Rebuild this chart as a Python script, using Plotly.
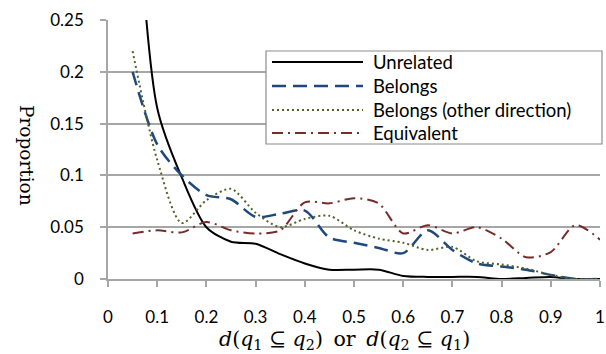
import plotly.graph_objects as go

x = [0.05, 0.1, 0.15, 0.2, 0.25, 0.3, 0.35, 0.4, 0.45, 0.5, 0.55, 0.6, 0.65, 0.7, 0.75, 0.8, 0.85, 0.9, 0.95, 1.0]

unrelated = [0.44, 0.165, 0.098, 0.05, 0.036, 0.034, 0.024, 0.015, 0.009, 0.009, 0.009, 0.003, 0.002, 0.002, 0.002, 0.0, 0.001, 0.002, 0.0, 0.0]
belongs = [0.2, 0.13, 0.1, 0.081, 0.077, 0.06, 0.063, 0.066, 0.04, 0.035, 0.03, 0.025, 0.047, 0.028, 0.015, 0.012, 0.009, 0.004, 0.0, 0.0]
belongs_other = [0.22, 0.115, 0.054, 0.076, 0.087, 0.064, 0.05, 0.058, 0.061, 0.047, 0.039, 0.035, 0.028, 0.031, 0.017, 0.014, 0.01, 0.004, 0.0, 0.0]
equivalent = [0.044, 0.047, 0.045, 0.055, 0.047, 0.044, 0.047, 0.074, 0.073, 0.078, 0.073, 0.044, 0.052, 0.044, 0.05, 0.039, 0.021, 0.026, 0.052, 0.038]

series_names = ["Unrelated", "Belongs", "Belongs (other direction)", "Equivalent"]
series_values = [unrelated, belongs, belongs_other, equivalent]
series_colors = ["#000000", "#1F497D", "#4F6228", "#772C2A"]
series_dash = ["solid", "14px,7px", "2px,3px", "11px,5px,2px,5px"]
series_width = [2, 2.5, 2, 2]

x_ticks = [0, 0.1, 0.2, 0.3, 0.4, 0.5, 0.6, 0.7, 0.8, 0.9, 1]
x_tick_labels = ["0", "0.1", "0.2", "0.3", "0.4", "0.5", "0.6", "0.7", "0.8", "0.9", "1"]
y_ticks = [0, 0.05, 0.1, 0.15, 0.2, 0.25]
y_tick_labels = ["0", "0.05", "0.1", "0.15", "0.2", "0.25"]

x_title = ("<i>d</i>(<i>q</i><sub>1</sub> ⊆ <i>q</i><sub>2</sub>)\u2009 or \u2009"
           "<i>d</i>(<i>q</i><sub>2</sub> ⊆ <i>q</i><sub>1</sub>)")
y_title = "Proportion"

W, H = 606, 354
L, R, T, B = 108, 6, 20, 75
PW, PH = W - L - R, H - T - B


def px_x(p):
    return (p - L) / PW


def px_y(p):
    return (H - B - p) / PH


fig = go.Figure()
for name, vals, col, dash, w in zip(series_names, series_values, series_colors, series_dash, series_width):
    fig.add_trace(go.Scatter(
        x=x, y=vals, name=name, mode="lines", showlegend=False,
        line=dict(color=col, dash=dash, width=w, shape="spline", smoothing=0.8),
    ))

shapes = []
annotations = []
# legend box
shapes.append(dict(type="rect", xref="paper", yref="paper",
                   x0=px_x(266), x1=px_x(602), y0=px_y(144), y1=px_y(51),
                   line=dict(color="#8C8C8C", width=1.2), fillcolor="white", layer="above"))
row_y = [62, 86, 110, 133]
for name, col, dash, w, ry in zip(series_names, series_colors, series_dash, series_width, row_y):
    shapes.append(dict(type="line", xref="paper", yref="paper",
                       x0=px_x(272), x1=px_x(363), y0=px_y(ry), y1=px_y(ry),
                       line=dict(color=col, dash=dash, width=w), layer="above"))
    annotations.append(dict(text=name, xref="paper", yref="paper",
                            x=px_x(371), y=px_y(ry), xanchor="left", yanchor="middle",
                            showarrow=False,
                            font=dict(family="Lato, Open Sans, sans-serif", size=18.5, color="#000000")))

annotations.append(dict(text=x_title, xref="paper", yref="paper",
                        x=px_x(344), y=px_y(340), xanchor="center", yanchor="middle",
                        showarrow=False,
                        font=dict(family="DejaVu Serif, serif", size=20.5, color="#000000")))
annotations.append(dict(text=y_title, xref="paper", yref="paper",
                        x=px_x(27), y=px_y(155), xanchor="center", yanchor="middle",
                        textangle=90, showarrow=False,
                        font=dict(family="DejaVu Serif, serif", size=18.5, color="#000000")))

grid = "#A6A6A6"
tick_font = dict(family="Lato, Open Sans, sans-serif", size=17, color="#000000")
fig.update_layout(
    width=W, height=H,
    margin=dict(l=L, r=R, t=T, b=B),
    plot_bgcolor="white", paper_bgcolor="white",
    showlegend=False,
    shapes=shapes, annotations=annotations,
    xaxis=dict(
        range=[0, 1], tickvals=x_ticks, ticktext=x_tick_labels, tickfont=tick_font,
        showgrid=False, showline=True, linecolor=grid, linewidth=1.5,
        ticks="outside", ticklen=6, tickcolor=grid, tickwidth=1.5,
        ticklabelstandoff=16,
        zeroline=False, fixedrange=True, automargin=False,
    ),
    yaxis=dict(
        range=[0, 0.25], tickvals=y_ticks, ticktext=y_tick_labels, tickfont=tick_font,
        showgrid=True, gridcolor=grid, gridwidth=1.5,
        showline=True, linecolor=grid, linewidth=1.5,
        ticks="outside", ticklen=6, tickcolor=grid, tickwidth=1.5,
        ticklabelstandoff=13,
        zeroline=False, fixedrange=True, automargin=False,
    ),
)

fig.write_html(
    "out.html",
    config={"displayModeBar": False},
    post_script="document.body.style.margin='0';document.body.style.padding='0';document.body.style.overflow='hidden';",
)
